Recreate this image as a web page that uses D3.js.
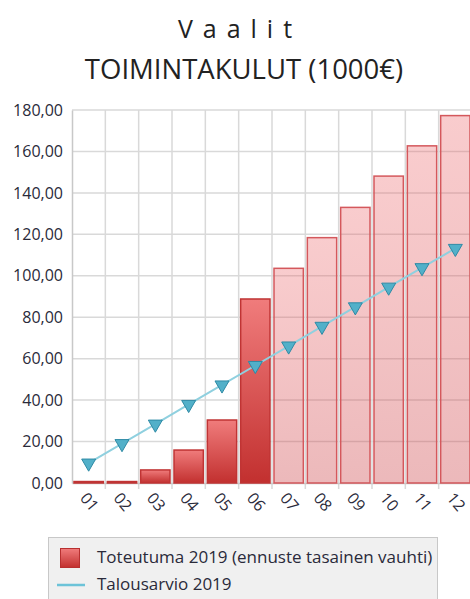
<!DOCTYPE html>
<html>
<head>
  <style>
    body {
      margin: 0;
      background: white;
    }
    text {
      font-family: "Open Sans", "Noto Sans", sans-serif;
    }
  </style>
</head>
<body>
  <div id="chart"></div>
  <script src="https://d3js.org/d3.v7.min.js"></script>
  <script>
    var width = 470, height = 599;

    // data
    var months = ["01", "02", "03", "04", "05", "06", "07", "08", "09", "10", "11", "12"];
    var toteutuma = [0.7, 0.7, 6.3, 15.9, 30.4, 88.8, 103.6, 118.4, 133.0, 148.1, 162.7, 177.3];
    var ennuste = [false, false, false, false, false, false, true, true, true, true, true, true];
    var talousarvio = [9.6, 19.0, 28.4, 37.9, 47.3, 56.7, 66.1, 75.6, 85.0, 94.5, 103.9, 113.2];
    var yTicks = [0, 20, 40, 60, 80, 100, 120, 140, 160, 180];
    var legendLabels = ["Toteutuma 2019 (ennuste tasainen vauhti)", "Talousarvio 2019"];

    var margin = {left: 72, right: -2, top: 110, bottom: 116};

    var svg = d3.select("#chart").append("svg")
        .attr("width", width)
        .attr("height", height);

    var defs = svg.append("defs");
    var g1 = defs.append("linearGradient").attr("id", "redGrad")
        .attr("x1", 0).attr("y1", 0).attr("x2", 0).attr("y2", 1);
    g1.append("stop").attr("offset", "0%").attr("stop-color", "#f07c7c");
    g1.append("stop").attr("offset", "100%").attr("stop-color", "#c2302f");
    var g2 = defs.append("linearGradient").attr("id", "pinkGrad")
        .attr("x1", 0).attr("y1", 0).attr("x2", 0).attr("y2", 1);
    g2.append("stop").attr("offset", "0%").attr("stop-color", "rgba(236,100,104,0.33)");
    g2.append("stop").attr("offset", "100%").attr("stop-color", "rgba(205,70,75,0.38)");

    var x = d3.scaleBand()
        .domain(months)
        .range([margin.left, width - margin.right])
        .paddingInner(0.12)
        .paddingOuter(0.06);

    var y = d3.scaleLinear()
        .domain([0, 180])
        .range([height - margin.bottom, margin.top]);

    // title
    svg.append("text")
        .attr("x", 240).attr("y", 38)
        .attr("text-anchor", "middle")
        .style("font-size", "25px")
        .style("letter-spacing", "10px")
        .style("fill", "#222")
        .text("Vaalit");
    svg.append("text")
        .attr("x", 244).attr("y", 79)
        .attr("text-anchor", "middle")
        .style("font-size", "27.5px")
        .style("fill", "#222")
        .text("TOIMINTAKULUT (1000€)");

    // grid
    var step = x.step();
    var edges = months.map((m, i) => margin.left + i * step).concat([width - margin.right]);
    svg.append("g").selectAll("line")
        .data(yTicks.slice(1))
      .enter().append("line")
        .attr("x1", margin.left).attr("x2", width)
        .attr("y1", d => y(d)).attr("y2", d => y(d))
        .attr("stroke", "#d9d9d9").attr("stroke-width", 1.5);
    svg.append("g").selectAll("line")
        .data(edges.slice(1))
      .enter().append("line")
        .attr("x1", d => d).attr("x2", d => d)
        .attr("y1", y(180)).attr("y2", y(0) + 6)
        .attr("stroke", "#d9d9d9").attr("stroke-width", 1.5);

    // axes
    var yAxis = svg.append("g")
        .attr("transform", "translate(" + margin.left + ",0)")
        .call(d3.axisLeft(y).tickValues(yTicks).tickSize(0).tickPadding(9)
          .tickFormat(d => d3.format(".2f")(d).replace(".", ",")));
    yAxis.select(".domain").attr("stroke", "#c8c8c8").attr("stroke-width", 1.5);
    yAxis.selectAll("text").style("font-size", "16px").style("fill", "#2a2a3a");

    var xAxis = svg.append("g")
        .attr("transform", "translate(0," + y(0) + ")")
        .call(d3.axisBottom(x).tickSize(0).tickPadding(0));
    xAxis.select(".domain").attr("stroke", "#c8c8c8").attr("stroke-width", 1.5);
    xAxis.selectAll("text")
        .attr("transform", "translate(-5,12) rotate(50)")
        .attr("dy", "0.35em")
        .style("text-anchor", "start")
        .style("font-size", "16px")
        .style("fill", "#2a2a3a");

    // bars
    svg.append("g").selectAll("rect")
        .data(months)
      .enter().append("rect")
        .attr("x", d => x(d))
        .attr("width", x.bandwidth())
        .attr("y", (d, i) => y(toteutuma[i]))
        .attr("height", (d, i) => y(0) - y(toteutuma[i]))
        .attr("fill", (d, i) => ennuste[i] ? "url(#pinkGrad)" : "url(#redGrad)")
        .attr("stroke", (d, i) => ennuste[i] ? "#d4585c" : "#c03434")
        .attr("stroke-width", 1.5);

    // budget line
    var line = d3.line()
        .x((d, i) => x(months[i]) + x.bandwidth() / 2)
        .y(d => y(d));
    svg.append("path")
        .datum(talousarvio)
        .attr("d", line)
        .attr("fill", "none")
        .attr("stroke", "#8fd0df")
        .attr("stroke-width", 2);
    var tri = d3.symbol().type(d3.symbolTriangle).size(85);
    svg.append("g").selectAll("path")
        .data(talousarvio)
      .enter().append("path")
        .attr("d", tri)
        .attr("transform", (d, i) => "translate(" + (x(months[i]) + x.bandwidth() / 2) + "," + y(d) + ") rotate(180)")
        .attr("fill", "#52b0c9")
        .attr("stroke", "#2e8aa5")
        .attr("stroke-width", 1);

    // legend
    var legend = svg.append("g");
    legend.append("rect")
        .attr("x", 48.5).attr("y", 537.5)
        .attr("width", 389).attr("height", 70)
        .attr("fill", "#f0f0f0")
        .attr("stroke", "#c8c8c8");
    legend.append("rect")
        .attr("x", 60.5).attr("y", 548.5)
        .attr("width", 19).attr("height", 19)
        .attr("fill", "url(#redGrad)")
        .attr("stroke", "#b83030");
    legend.append("line")
        .attr("x1", 57).attr("x2", 85)
        .attr("y1", 585).attr("y2", 585)
        .attr("stroke", "#6cc3d8").attr("stroke-width", 2.5);
    legend.selectAll("text.lbl")
        .data(legendLabels)
      .enter().append("text")
        .attr("class", "lbl")
        .attr("x", 97)
        .attr("y", (d, i) => 563 + i * 27)
        .style("font-size", "17px")
        .style("fill", "#2a2a3a")
        .text(d => d);
  </script>
</body>
</html>
